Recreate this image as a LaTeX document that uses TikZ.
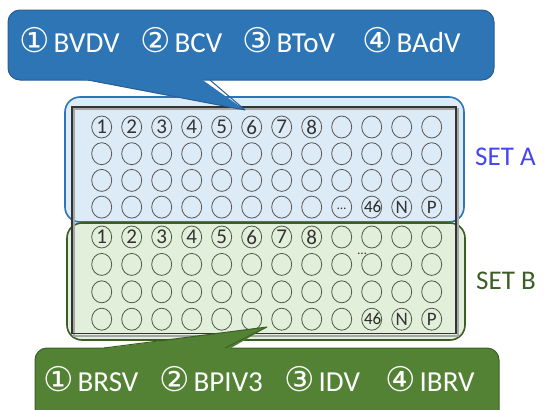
\documentclass[tikz,border=0pt]{standalone}
\usepackage{fontspec}
\setmainfont{Carlito}
\newfontfamily\dv{DejaVu Sans}
\usetikzlibrary{shapes.geometric}
\definecolor{cablue}{HTML}{2E75B6}
\definecolor{cabluedk}{HTML}{2A5E92}
\definecolor{setafill}{HTML}{DDEBF7}
\definecolor{cagreen}{HTML}{548235}
\definecolor{cagreendk}{HTML}{3B5E25}
\definecolor{setbfill}{HTML}{E2EFDA}
\definecolor{setatext}{HTML}{4545F2}
\definecolor{wellA}{HTML}{555555}
\definecolor{wellB}{HTML}{4B5A42}
\newcommand{\citem}[2]{{\dv\fontsize{34}{34}\selectfont #1}\hspace{4pt}#2}
\tikzset{
  setbox/.style={rounded corners=15pt, line width=1.6pt},
  well/.style={ellipse, draw, minimum width=20pt, minimum height=22pt, inner sep=0pt, line width=0.8pt, text=black!80},
  wellnum/.style={font=\fontsize{21}{21}\selectfont},
  wellsmall/.style={font=\fontsize{17}{17}\selectfont},
  ctext/.style={anchor=base west, inner sep=0pt, text=white, font=\fontsize{29}{29}\selectfont},
  setlabel/.style={anchor=west, inner sep=0pt, font=\fontsize{27}{27}\selectfont},
}
\begin{document}
\begin{tikzpicture}[x=1pt,y=-1pt]
\useasboundingbox (0,0) rectangle (544,410);
% set boxes
\draw[setbox, draw=cablue, fill=setafill] (65,97) rectangle (464,222);
\draw[setbox, draw=cagreendk, fill=setbfill] (67,223) rectangle (465,340);
% plate
\draw[gray!70, line width=1.2pt] (74,109) rectangle (458,336);
\draw[black!80, line width=1.6pt] (72,107) rectangle (456,333.5);
% wells set A
\foreach \r in {1,...,4}{
  \foreach \c in {1,...,12}{
    \node[well, draw=wellA] (a-\r-\c) at ({101.7+30*(\c-1)},{127+26.7*(\r-1)}) {};
  }
}
% wells set B
\foreach \r in {1,...,4}{
  \foreach \c in {1,...,12}{
    \node[well, draw=wellB] (b-\r-\c) at ({101.7+30*(\c-1)},{237+27.4*(\r-1)}) {};
  }
}
% numbers
\foreach \c in {1,...,8}{
  \node[wellnum, text=black!80] at (a-1-\c) {\c};
  \node[wellnum, text=black!80] at (b-1-\c) {\c};
}
\node[font=\fontsize{13}{13}\selectfont, text=black!80] at ([yshift=-2pt]a-4-9) {…};
\node[wellsmall, text=black!85] at ([xshift=1pt]a-4-10) {46};
\node[font=\fontsize{19}{19}\selectfont, text=black!80] at (a-4-11) {N};
\node[font=\fontsize{19}{19}\selectfont, text=black!80] at (a-4-12) {P};
\node[font=\fontsize{13}{13}\selectfont, text=black!80] (bdots) at (362,254) {…};
\node[wellsmall, text=black!85] at ([xshift=1pt]b-4-10) {46};
\node[font=\fontsize{19}{19}\selectfont, text=black!80] at (b-4-11) {N};
\node[font=\fontsize{19}{19}\selectfont, text=black!80] at (b-4-12) {P};
% callout A
\node[draw=cabluedk, fill=cablue, line width=1pt, rounded corners=12pt, minimum width=486pt, minimum height=70pt, inner sep=0pt] (ca) at (251,45) {};
\fill[cablue] (77,78.2) -- (245,110) -- (200,78.2) -- cycle;
\draw[cabluedk, line width=1pt, line join=round] (88,80) -- (245,110) -- (210,80);
\node[ctext] (ta1) at (19,52) {\citem{①}{BVDV}};
\node[ctext] (ta2) at (140,52) {\citem{②}{BCV}};
\node[ctext] (ta3) at (242,52) {\citem{③}{BToV}};
\node[ctext] (ta4) at (362,52) {\citem{④}{BAdV}};
% callout B
\node[draw=cagreendk, fill=cagreen, line width=1pt, rounded corners=12pt, minimum width=464pt, minimum height=90pt, inner sep=0pt] (cb) at (267,393) {};
\fill[cagreen] (94,349.8) -- (267,327) -- (228,349.8) -- cycle;
\draw[cagreendk, line width=1pt, line join=round] (104,348) -- (267,327) -- (225,348);
\node[ctext] (tb1) at (43,391) {\citem{①}{BRSV}};
\node[ctext] (tb2) at (159,391) {\citem{②}{BPIV3}};
\node[ctext] (tb3) at (284,391) {\citem{③}{IDV}};
\node[ctext] (tb4) at (385,391) {\citem{④}{IBRV}};
% set labels
\node[setlabel, text=setatext] (la) at (475,157) {SET A};
\node[setlabel, text=cagreendk] (lb) at (476,281) {SET B};
\end{tikzpicture}
\end{document}
